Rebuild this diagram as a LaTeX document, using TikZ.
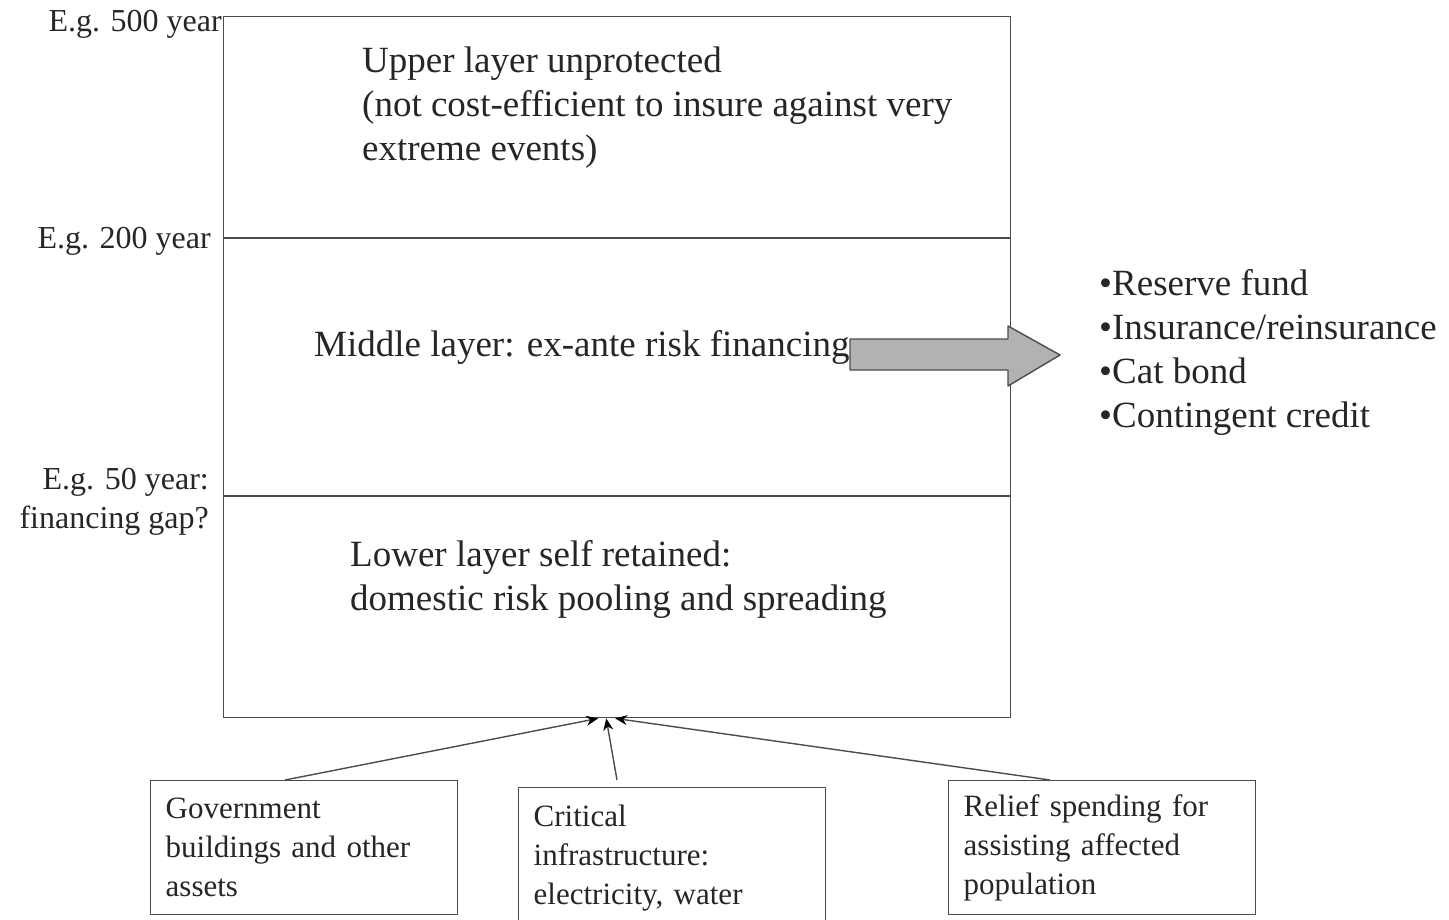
\documentclass[tikz,border=0pt]{standalone}
\usepackage{fontspec}
\setmainfont{Liberation Serif}
\usetikzlibrary{arrows.meta,calc}
\tikzset{
  frame/.style={draw=black!70, line width=1.4pt},
  bigtxt/.style={font=\fontsize{37}{44}\selectfont, inner sep=0pt, align=left, text=black!85},
  midtxt/.style={font=\fontsize{32}{39}\selectfont, inner sep=0pt, text=black!85},
  boxtxt/.style={draw=black!70, line width=1.4pt, font=\fontsize{31}{39}\selectfont, align=left, text=black!85,
     inner xsep=15pt, inner ysep=0pt, anchor=north west, text width=277pt},
  feed/.style={draw=black!70, line width=1.4pt, -{Stealth[length=12pt,width=10pt,color=black]}},
  bigarrow/.style={draw=black!70, line width=1.4pt, fill=black!30, line join=round}
}
\begin{document}
\begin{tikzpicture}[x=1pt,y=-1pt]
\useasboundingbox (0,0) rectangle (1449,920);
% main box
\node[frame, inner sep=0pt, minimum width=787pt, minimum height=701pt, anchor=north west] (main) at (223,16) {};
\draw[frame] (223,238) coordinate (l1a) -- (1010,238) coordinate (l1b);
\draw[frame] (223,496) coordinate (l2a) -- (1010,496) coordinate (l2b);
% layer texts (base anchor = last line's baseline)
\node[bigtxt, anchor=base west] (upper) at (362,161) {Upper layer unprotected\\(not cost-efficient to insure against very\\extreme events)};
\node[bigtxt, anchor=base west] (middle) at (314,356) {Middle layer: ex-ante risk financing};
\node[bigtxt, anchor=base west] (lower) at (350,610) {Lower layer self retained:\\domestic risk pooling and spreading};
% left labels
\node[midtxt, anchor=base east] (y500) at (222,32) {E.g. 500 year};
\node[midtxt, anchor=base east] (y200) at (211,249) {E.g. 200 year};
\node[midtxt, anchor=base east, align=right] (y50) at (209,528) {E.g. 50 year:\\financing gap?};
% big arrow
\draw[bigarrow] (850,339) -- (1008,339) -- (1008,326) -- (1060,355) -- (1008,386) -- (1008,370) -- (850,370) -- cycle;
\coordinate (arrowtip) at (1060,355);
% bullet list
\node[bigtxt, anchor=base west] (list) at (1099,427) {•Reserve fund\\•Insurance/reinsurance\\•Cat bond\\•Contingent credit};
% bottom boxes
\node[boxtxt, minimum height=134pt] (gov) at (150,780) {Government\\buildings and other\\assets};
\node[boxtxt, minimum height=140pt] (crit) at (518,787) {Critical\\infrastructure:\\electricity, water};
\node[boxtxt, minimum height=134pt] (relief) at (948,780) {Relief spending for\\assisting affected\\population};
% feeding arrows
\draw[feed] ($(gov.north west)+(135,0)$) -- ($(main.south)+(-19,0)$);
\draw[feed] ($(crit.north west)+(99,-7)$) -- ($(main.south)+(-11,0)$);
\draw[feed] ($(relief.north west)+(102,0)$) -- ($(main.south)+(-2,0)$);
\end{tikzpicture}
\end{document}
